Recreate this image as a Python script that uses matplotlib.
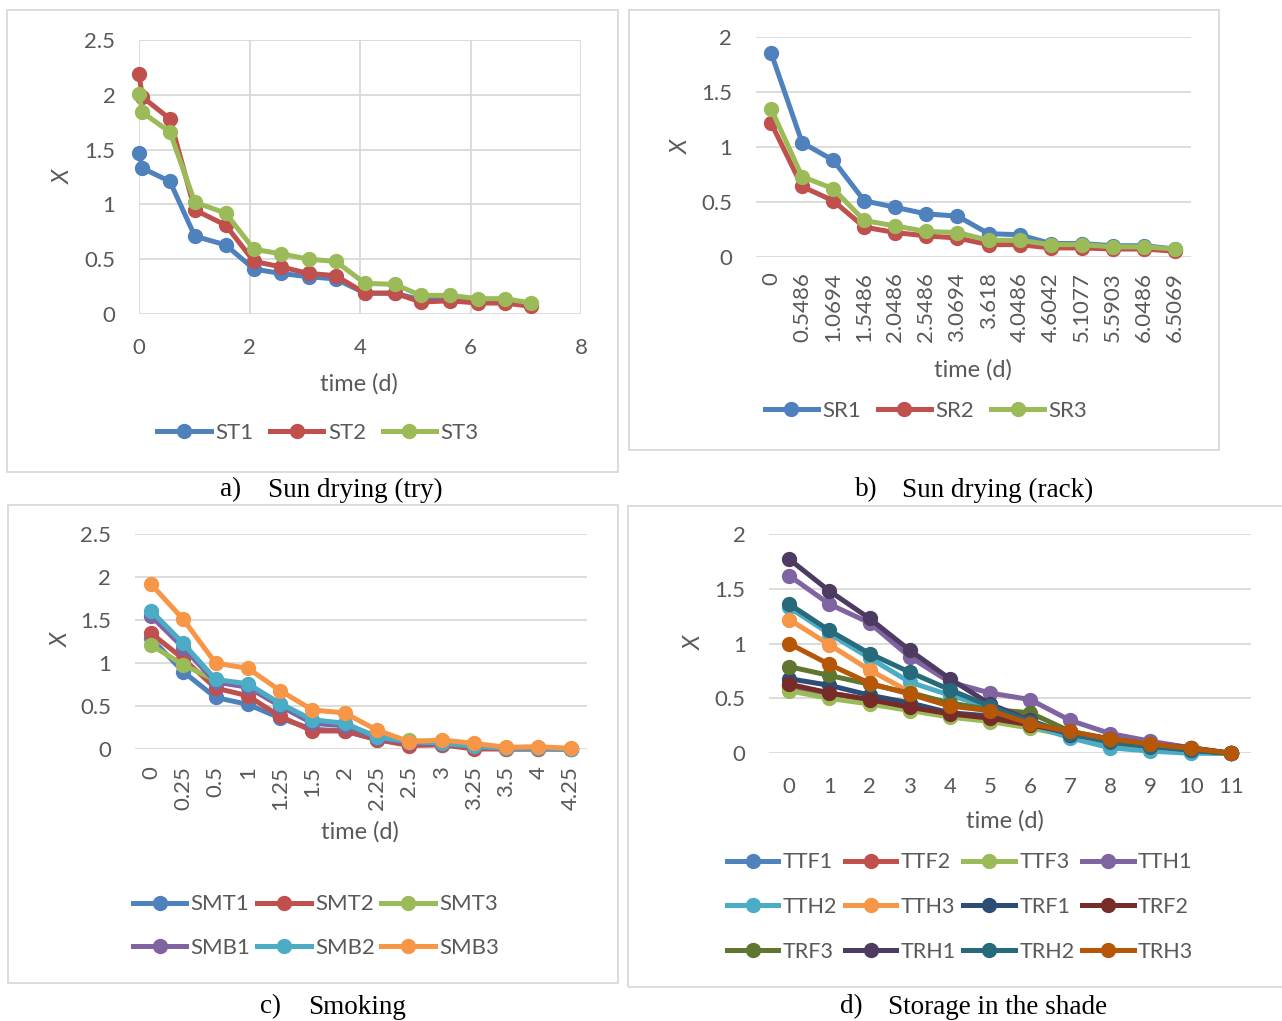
import numpy as np
import matplotlib
matplotlib.use("Agg")
import matplotlib.pyplot as plt
from matplotlib.lines import Line2D
from matplotlib.patches import Rectangle
from matplotlib.ticker import FuncFormatter

# ---- data ----
# a) Sun drying (try)
st_time = [0, 0.06, 0.56, 1.01, 1.57, 2.08, 2.57, 3.07, 3.56, 4.09, 4.63, 5.1, 5.63, 6.14, 6.62, 7.1]
ST1 = [1.47, 1.33, 1.21, 0.71, 0.63, 0.41, 0.37, 0.34, 0.32, 0.19, 0.19, 0.13, 0.14, 0.11, 0.11, 0.09]
ST2 = [2.19, 1.98, 1.78, 0.95, 0.81, 0.48, 0.43, 0.37, 0.35, 0.19, 0.19, 0.11, 0.12, 0.10, 0.10, 0.07]
ST3 = [2.01, 1.84, 1.66, 1.02, 0.92, 0.59, 0.55, 0.50, 0.48, 0.28, 0.27, 0.17, 0.17, 0.14, 0.14, 0.10]

# b) Sun drying (rack)
sr_labels = ["0", "0.5486", "1.0694", "1.5486", "2.0486", "2.5486", "3.0694", "3.618",
             "4.0486", "4.6042", "5.1077", "5.5903", "6.0486", "6.5069"]
SR1 = [1.86, 1.04, 0.88, 0.51, 0.45, 0.39, 0.37, 0.21, 0.20, 0.12, 0.12, 0.10, 0.10, 0.07]
SR2 = [1.22, 0.64, 0.51, 0.27, 0.22, 0.19, 0.17, 0.11, 0.11, 0.08, 0.08, 0.07, 0.07, 0.05]
SR3 = [1.35, 0.73, 0.62, 0.33, 0.28, 0.23, 0.22, 0.15, 0.15, 0.11, 0.11, 0.09, 0.09, 0.07]

# c) Smoking
sm_labels = ["0", "0.25", "0.5", "1", "1.25", "1.5", "2", "2.25", "2.5", "3", "3.25", "3.5", "4", "4.25"]
SMT1 = [1.29, 0.90, 0.60, 0.52, 0.36, 0.23, 0.21, 0.11, 0.05, 0.05, 0.02, 0.0, 0.0, 0.0]
SMT2 = [1.35, 1.05, 0.71, 0.62, 0.38, 0.21, 0.21, 0.11, 0.04, 0.05, 0.0, 0.0, 0.0, 0.0]
SMT3 = [1.21, 0.98, 0.80, 0.74, 0.52, 0.32, 0.28, 0.15, 0.10, 0.08, 0.04, 0.01, 0.01, 0.0]
SMB1 = [1.55, 1.18, 0.78, 0.72, 0.50, 0.30, 0.27, 0.13, 0.07, 0.07, 0.03, 0.01, 0.01, 0.0]
SMB2 = [1.61, 1.23, 0.81, 0.76, 0.53, 0.34, 0.30, 0.14, 0.085, 0.07, 0.03, 0.01, 0.01, 0.0]
SMB3 = [1.92, 1.51, 1.00, 0.94, 0.68, 0.455, 0.42, 0.22, 0.085, 0.105, 0.066, 0.02, 0.027, 0.008]

# d) Storage in the shade
sh_labels = [str(i) for i in range(12)]
TTF1 = [0.60, 0.53, 0.47, 0.41, 0.35, 0.30, 0.25, 0.17, 0.10, 0.05, 0.01, 0.0]
TTF2 = [0.62, 0.55, 0.49, 0.43, 0.37, 0.32, 0.26, 0.19, 0.13, 0.10, 0.05, 0.0]
TTF3 = [0.57, 0.50, 0.45, 0.39, 0.33, 0.29, 0.23, 0.16, 0.08, 0.04, 0.01, 0.0]
TTH1 = [1.62, 1.36, 1.19, 0.88, 0.65, 0.55, 0.49, 0.30, 0.18, 0.11, 0.05, 0.0]
TTH2 = [1.33, 1.09, 0.87, 0.65, 0.53, 0.42, 0.26, 0.14, 0.05, 0.02, 0.0, 0.0]
TTH3 = [1.22, 0.99, 0.76, 0.56, 0.45, 0.38, 0.28, 0.18, 0.10, 0.06, 0.03, 0.0]
TRF1 = [0.68, 0.62, 0.53, 0.46, 0.37, 0.34, 0.27, 0.18, 0.11, 0.07, 0.03, 0.0]
TRF2 = [0.63, 0.55, 0.49, 0.42, 0.36, 0.32, 0.26, 0.19, 0.13, 0.08, 0.05, 0.0]
TRF3 = [0.79, 0.71, 0.63, 0.55, 0.46, 0.40, 0.37, 0.20, 0.13, 0.08, 0.04, 0.0]
TRH1 = [1.77, 1.48, 1.23, 0.94, 0.68, 0.45, 0.30, 0.17, 0.12, 0.07, 0.03, 0.0]
TRH2 = [1.36, 1.12, 0.91, 0.74, 0.58, 0.43, 0.29, 0.18, 0.10, 0.06, 0.03, 0.0]
TRH3 = [1.00, 0.81, 0.64, 0.54, 0.43, 0.39, 0.27, 0.20, 0.13, 0.085, 0.046, 0.0]

C = ["#4F81BD", "#C0504D", "#9BBB59", "#8064A2", "#4BACC6", "#F79646",
     "#2C4D75", "#772C2A", "#5F7530", "#4D3B62", "#276A7C", "#B65708"]

W, H = 1282, 1021
GRID = "#D9D9D9"
TXT = "#595959"
FS = 16

plt.rcParams["font.family"] = ["Lato", "DejaVu Sans"]

fig = plt.figure(figsize=(W / 100, H / 100), dpi=100)


def rect(x0, y0, x1, y1):
    return [x0 / W, 1 - y1 / H, (x1 - x0) / W, (y1 - y0) / H]


def fx(x):
    return x / W


def fy(y):
    return 1 - y / H


def border(x0, y0, x1, y1):
    fig.add_artist(Rectangle((x0 / W, 1 - y1 / H), (x1 - x0) / W, (y1 - y0) / H,
                             transform=fig.transFigure, fill=False,
                             edgecolor=GRID, lw=1.3))


def style(ax, ymax, ypad, xpad):
    ax.set_ylim(0, ymax)
    ax.set_yticks(np.arange(0, ymax + 0.01, 0.5))
    ax.yaxis.set_major_formatter(FuncFormatter(lambda v, p: "%g" % v))
    for s in ax.spines.values():
        s.set_visible(False)
    ax.grid(axis="y", color=GRID, lw=1.3)
    ax.set_axisbelow(True)
    ax.tick_params(length=0, labelsize=FS, labelcolor=TXT)
    ax.tick_params(axis="y", pad=ypad)
    ax.tick_params(axis="x", pad=xpad)
    ax.set_facecolor("none")


def series(ax, x, ys, cols):
    for y, c in zip(ys, cols):
        ax.plot(x, y, color=c, lw=3.6, marker="o", ms=10, clip_on=False)


def legend(names, cols, cx, cy, ncol, rowsp=0.5, colsp=1.0, fs=FS):
    handles = [Line2D([], [], color=c, lw=3.6, marker="o", ms=10) for c in cols]
    # excel fills legend rows first, matplotlib fills columns first
    nrow = int(np.ceil(len(names) / ncol))
    order = [r * ncol + k for k in range(ncol) for r in range(nrow) if r * ncol + k < len(names)]
    fig.legend([handles[i] for i in order], [names[i] for i in order],
               loc="center", bbox_to_anchor=(fx(cx), fy(cy)), ncol=ncol,
               frameon=False, fontsize=fs, labelcolor=TXT, handlelength=2.4,
               handletextpad=0.2, columnspacing=colsp, labelspacing=rowsp,
               borderpad=0)


def labels(xl, yl, xx, xy, yx, yy):
    fig.text(fx(xx), fy(xy), xl, ha="center", va="center", fontsize=17, color=TXT)
    fig.text(fx(yx), fy(yy), yl, ha="center", va="center", fontsize=17, color=TXT,
             rotation=90, style="italic")


def caption(tag, title, x_tag, x_title, y):
    for s, x in ((tag, x_tag), (title, x_title)):
        fig.text(fx(x), fy(y), s, ha="left", va="center", fontsize=19.5,
                 family="Liberation Serif", color="black")


# panel borders
border(7, 10, 618, 472)
border(629, 10, 1219, 450)
border(8, 505, 618, 983)
border(628, 506, 1300, 987)

# a) scatter with lines
ax = fig.add_axes(rect(139, 40, 581, 314))
series(ax, st_time, [ST1, ST2, ST3], C[:3])
style(ax, 2.5, 17, 17)
ax.set_xlim(0, 8)
ax.set_xticks([0, 2, 4, 6, 8])
ax.grid(axis="x", color=GRID, lw=1.3)
labels("time (d)", "X", 359, 384, 63, 177)
legend(["ST1", "ST2", "ST3"], C[:3], 318, 433, 3, colsp=0.75)
caption("a)", "Sun drying (try)", 220, 268, 490)

# b) line chart, category axis
ax = fig.add_axes(rect(755.5, 37.3, 1190.5, 256.7))
series(ax, np.arange(len(sr_labels)), [SR1, SR2, SR3], C[:3])
style(ax, 2, 17, 11)
ax.set_xlim(-0.5, len(sr_labels) - 0.5)
ax.set_xticks(np.arange(len(sr_labels)))
ax.set_xticklabels(sr_labels, rotation=90)
labels("time (d)", "X", 973, 370, 681, 147)
legend(["SR1", "SR2", "SR3"], C[:3], 926, 411, 3, colsp=0.75)
caption("b)", "Sun drying (rack)", 855, 902, 490)

# c) smoking
ax = fig.add_axes(rect(134.9, 534.4, 586.8, 749))
series(ax, np.arange(len(sm_labels)), [SMT1, SMT2, SMT3, SMB1, SMB2, SMB3], C[:6])
style(ax, 2.5, 17, 12)
ax.set_xlim(-0.5, len(sm_labels) - 0.5)
ax.set_xticks(np.arange(len(sm_labels)))
ax.set_xticklabels(sm_labels, rotation=90)
labels("time (d)", "X", 360, 832, 61, 640)
legend(["SMT1", "SMT2", "SMT3", "SMB1", "SMB2", "SMB3"], C[:6], 316, 926, 3,
       rowsp=1.05, colsp=0.3)
caption("c)", "Smoking", 260, 308, 1007)

# d) storage in the shade
ax = fig.add_axes(rect(769.2, 534, 1250.8, 753.3))
d_names = ["TTF1", "TTF2", "TTF3", "TTH1", "TTH2", "TTH3",
           "TRF1", "TRF2", "TRF3", "TRH1", "TRH2", "TRH3"]
d_vals = [TTF1, TTF2, TTF3, TTH1, TTH2, TTH3, TRF1, TRF2, TRF3, TRH1, TRH2, TRH3]
series(ax, np.arange(len(sh_labels)), d_vals, C)
style(ax, 2, 17, 17)
ax.set_xlim(-0.5, len(sh_labels) - 0.5)
ax.set_xticks(np.arange(len(sh_labels)))
ax.set_xticklabels(sh_labels)
labels("time (d)", "X", 1005, 821, 694, 643)
legend(d_names, C, 960, 907, 4, rowsp=1.15, colsp=0.35, fs=15.5)
caption("d)", "Storage in the shade", 840, 888, 1007)

fig.savefig("out.png", dpi=100, facecolor="white")
